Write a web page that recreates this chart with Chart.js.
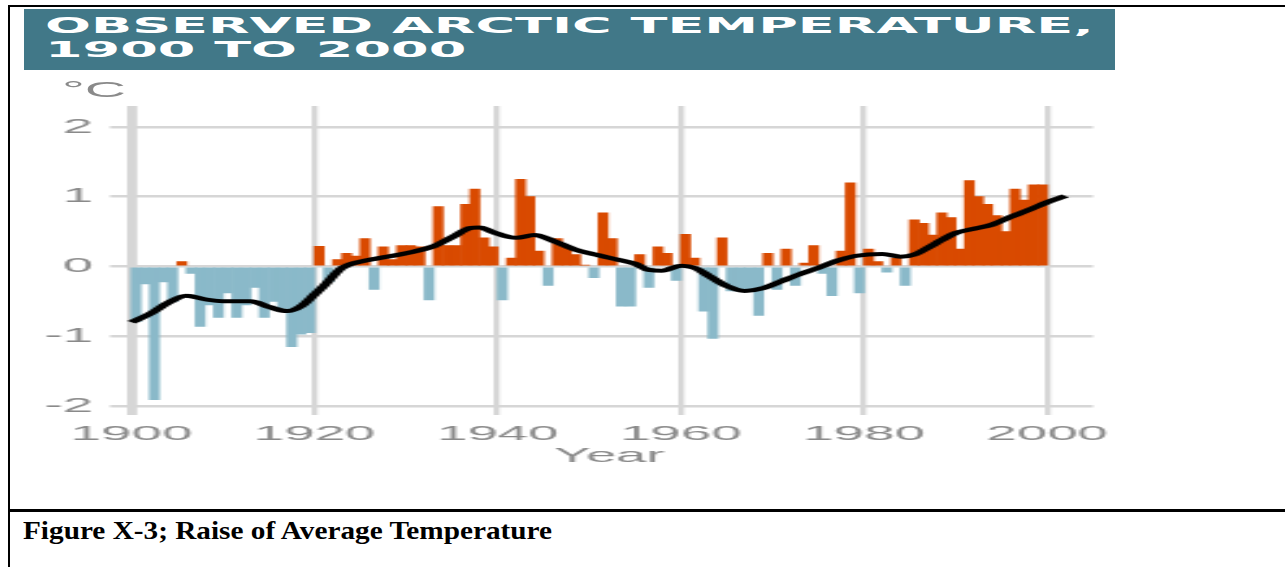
<!DOCTYPE html>
<html>
<head>
<meta charset="utf-8">
<script src="https://cdn.jsdelivr.net/npm/chart.js@4.4.1/dist/chart.umd.min.js"></script>
<style>
  html, body { margin: 0; padding: 0; background: #fff; }
  #page { position: relative; width: 1285px; height: 567px; overflow: hidden; }
  .rule { position: absolute; background: #000; }
  #banner { position: absolute; left: 24px; top: 9px; width: 1091px; height: 61px; background: #417888; }
  .ttl { position: absolute; left: 21px; color: #fff; font: bold 21px "DejaVu Sans", sans-serif; line-height: 24px; white-space: nowrap; transform-origin: 0 0; }
  #unit { position: absolute; left: 62px; top: 77px; color: #8a8a8a; font: 22px "Liberation Sans", Arial, sans-serif; line-height: 26px; white-space: nowrap; transform: scaleX(2.6); transform-origin: 0 0; }
  #caption { position: absolute; left: 23px; top: 518px; color: #000; font: bold 25px "Liberation Serif", "Times New Roman", serif; line-height: 25px; white-space: nowrap; transform-origin: 0 0; }
  #chart { position: absolute; left: 10px; top: 72px; }
</style>
</head>
<body>
<div id="page">
  <div class="rule" style="left:8px; top:5px; width:1277px; height:2px;"></div>
  <div class="rule" style="left:8px; top:5px; width:2px; height:562px;"></div>
  <div class="rule" style="left:8px; top:509px; width:1277px; height:3px;"></div>

  <div id="banner">
    <div class="ttl" id="t1" style="top:5px;">OBSERVED ARCTIC TEMPERATURE,</div>
    <div class="ttl" id="t2" style="top:29px;">1900 TO 2000</div>
  </div>

  <!-- the source figure is a small raster stretched sideways, so the canvas is too (425 -> 1105 px) -->
  <canvas id="chart" width="425" height="400" style="width:1105px; height:400px;"></canvas>
  <div id="unit">°C</div>

  <div id="caption">Figure X-3; Raise of Average Temperature</div>
</div>

<script>
// annual anomaly bars, °C
const barYears = [
  1900, 1901, 1902, 1903, 1904, 1905, 1906, 1907, 1908, 1909,
  1910, 1911, 1912, 1913, 1914, 1915, 1916, 1917, 1918, 1919,
  1920, 1921, 1922, 1923, 1924, 1925, 1926, 1927, 1928, 1929,
  1930, 1931, 1932, 1933, 1934, 1935, 1936, 1937, 1938, 1939,
  1940, 1941, 1942, 1943, 1944, 1945, 1946, 1947, 1948, 1949,
  1950, 1951, 1952, 1953, 1954, 1955, 1956, 1957, 1958, 1959,
  1960, 1961, 1962, 1963, 1964, 1965, 1966, 1967, 1968, 1969,
  1970, 1971, 1972, 1973, 1974, 1975, 1976, 1977, 1978, 1979,
  1980, 1981, 1982, 1983, 1984, 1985, 1986, 1987, 1988, 1989,
  1990, 1991, 1992, 1993, 1994, 1995, 1996, 1997, 1998, 1999
];
const barValues = [
  -0.79, -0.25, -1.91, -0.22, -0.50, 0.07, -0.10, -0.86, -0.55, -0.73,
  -0.38, -0.73, -0.55, -0.30, -0.73, -0.50, -0.60, -1.15, -0.97, -0.95,
  0.29, -0.22, 0.10, 0.19, 0.15, 0.40, -0.33, 0.28, 0.10, 0.30,
  0.30, 0.28, -0.48, 0.86, 0.30, 0.30, 0.89, 1.11, 0.41, 0.28,
  -0.48, 0.12, 1.25, 1.00, 0.22, -0.27, 0.40, 0.28, 0.17, 0.02,
  -0.16, 0.77, 0.40, -0.57, -0.57, 0.17, -0.30, 0.28, 0.19, -0.20,
  0.46, 0.12, -0.64, -1.03, 0.41, -0.35, -0.35, -0.35, -0.70, 0.19,
  -0.33, 0.25, -0.27, 0.05, 0.30, -0.10, -0.42, 0.22, 1.20, -0.38,
  0.25, 0.07, -0.08, 0.12, -0.27, 0.67, 0.62, 0.45, 0.77, 0.70,
  0.25, 1.23, 1.00, 0.89, 0.73, 0.50, 1.11, 0.95, 1.17, 1.17
];

// smoothed trend (black line)
const lineYears = [
  1900, 1902, 1904, 1906, 1908, 1910, 1913, 1915, 1917, 1918.5,
  1920, 1921, 1923, 1925, 1927, 1930, 1933, 1935, 1937, 1938,
  1939.5, 1942, 1944, 1946, 1948.5, 1951, 1953, 1955, 1956.5, 1958,
  1960, 1961.5, 1963, 1965, 1967, 1969, 1971, 1973, 1975, 1977,
  1979, 1982, 1984, 1985.5, 1987, 1988.5, 1990, 1992, 1994, 1996,
  1998, 2000, 2002
];
const lineValues = [
  -0.80, -0.68, -0.52, -0.42, -0.47, -0.50, -0.50, -0.58, -0.64, -0.57,
  -0.40, -0.28, -0.02, 0.07, 0.12, 0.19, 0.29, 0.42, 0.55, 0.56,
  0.49, 0.41, 0.45, 0.37, 0.24, 0.16, 0.10, 0.04, -0.05, -0.06,
  0.01, -0.02, -0.13, -0.28, -0.35, -0.31, -0.21, -0.11, -0.02, 0.08,
  0.15, 0.18, 0.14, 0.17, 0.27, 0.38, 0.48, 0.54, 0.60, 0.71,
  0.81, 0.92, 1.01
];

const xTicks = [1900, 1920, 1940, 1960, 1980, 2000];
const yTicks = [-2, -1, 0, 1, 2];

const ORANGE = '#d94a00';
const BLUE = '#8ab9c9';
const GRID = '#d6d6d6';
const LABEL = '#8a8a8a';
const FONT = '"Liberation Sans", Arial, sans-serif';

new Chart(document.getElementById('chart'), {
    type: 'bar',
    data: {
        datasets: [
            {
                type: 'line',
                data: lineYears.map((x, i) => ({ x: x, y: lineValues[i] })),
                borderColor: '#000',
                borderWidth: 4,
                pointRadius: 0,
                cubicInterpolationMode: 'monotone',
                clip: false,
                order: 0
            },
            {
                type: 'bar',
                // each bar fills its year, so it sits half a year right of the year mark
                data: barYears.map((x, i) => ({ x: x + 0.5, y: barValues[i] })),
                backgroundColor: c => (c.raw && c.raw.y < 0) ? BLUE : ORANGE,
                borderWidth: 0,
                barPercentage: 1,
                categoryPercentage: 1,
                order: 1
            }
        ]
    },
    options: {
        responsive: false,
        animation: false,
        devicePixelRatio: 1,
        layout: { padding: { left: 0, right: 8.5, top: 34, bottom: 0 } },
        plugins: {
            legend: { display: false },
            tooltip: { enabled: false }
        },
        scales: {
            x: {
                type: 'linear',
                min: 1899.4,
                max: 2005,
                offset: false,
                border: { display: false },
                grid: {
                    offset: false,
                    color: GRID,
                    lineWidth: c => (c.tick && c.tick.value === 1900) ? 3.9 : 2.3,
                    tickLength: 9
                },
                ticks: {
                    color: LABEL,
                    font: { family: FONT, size: 21 },
                    padding: 6.4,
                    maxRotation: 0,
                    autoSkip: false,
                    callback: v => String(v)
                },
                title: {
                    display: true,
                    text: 'Year',
                    color: LABEL,
                    font: { family: FONT, size: 21 },
                    padding: { top: 0, bottom: 3.4 }
                },
                afterBuildTicks: s => { s.ticks = xTicks.map(v => ({ value: v })); },
                afterFit: s => { s.height = 66; s.paddingLeft = 0; s.paddingRight = 0; }
            },
            y: {
                min: -2,
                max: 2.3,
                border: { display: false },
                grid: { color: GRID, lineWidth: 2.5, tickLength: 6.15 },
                ticks: {
                    color: LABEL,
                    font: { family: FONT, size: 21 },
                    padding: 6.5,
                    callback: v => String(v)
                },
                afterBuildTicks: s => { s.ticks = yTicks.map(v => ({ value: v })); },
                afterFit: s => { s.width = 44.6; s.paddingTop = 0; s.paddingBottom = 0; }
            }
        }
    }
});

// the banner and caption text are stretched sideways like the source image
function stretchTo(el, width) {
    const k = width / el.offsetWidth;
    el.style.transform = 'scaleX(' + k + ')';
    return k;
}
const k = stretchTo(document.getElementById('t1'), 1050);
document.getElementById('t2').style.transform = 'scaleX(' + k + ')';
stretchTo(document.getElementById('caption'), 529);
</script>
</body>
</html>
